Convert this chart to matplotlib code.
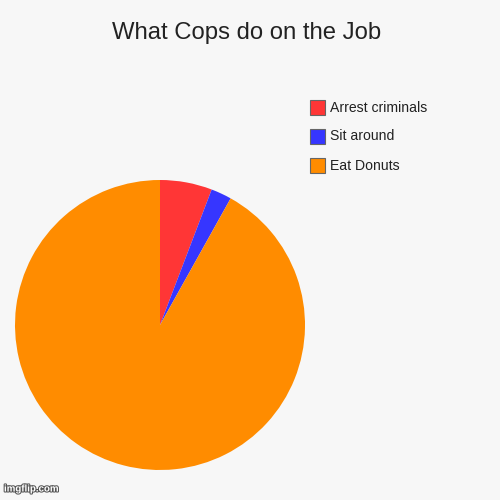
import matplotlib
matplotlib.use("Agg")
import matplotlib.pyplot as plt
import matplotlib.patheffects as pe
from matplotlib.patches import Rectangle

title = "What Cops do on the Job"
labels = ["Arrest criminals", "Sit around", "Eat Donuts"]
values = [5.8, 2.3, 91.9]
colors = ["#ff3636", "#3636ff", "#ff8c00"]

plt.rcParams['font.family'] = ['Liberation Sans', 'DejaVu Sans']
bg = "#f7f7f7"
fig = plt.figure(figsize=(5, 5), dpi=100, facecolor=bg)

ax = fig.add_axes([0.03, 0.06, 0.58, 0.58])
ax.set_facecolor(bg)
ax.pie(values, colors=colors, startangle=90, counterclock=False, radius=1,
       wedgeprops=dict(linewidth=0))
ax.set_xlim(-1, 1)
ax.set_ylim(-1, 1)
ax.set_aspect('equal')
ax.axis('off')

fig.text(0.494, 0.935, title, ha='center', va='center', fontsize=17.2, color='#222222')

# legend
for i, (lab, col) in enumerate(zip(labels, colors)):
    y = 500 - (107.5 + i * 29)
    fig.patches.append(Rectangle((310 / 500, (y - 7.5) / 500), 15 / 500, 15 / 500,
                                 transform=fig.transFigure, facecolor=col,
                                 edgecolor='#666666', linewidth=0.8))
    fig.text(330 / 500, y / 500, lab, ha='left', va='center', fontsize=10.1, color='#222222')

fig.text(0.008, 0.013, "imgflip.com", ha='left', va='bottom', fontsize=7, color='white',
         fontweight='bold',
         path_effects=[pe.withStroke(linewidth=1.5, foreground='#555555')])

fig.savefig("out.png", dpi=100, facecolor=bg)
